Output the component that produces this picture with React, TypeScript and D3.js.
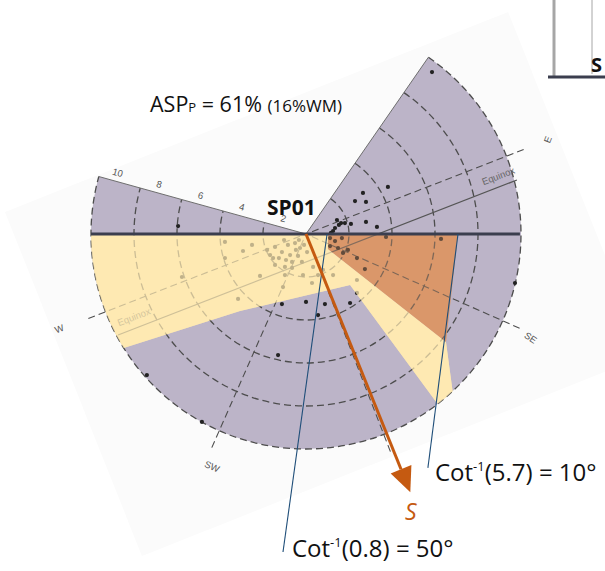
import * as d3 from "d3";

// chart frame: polar plot centred on SP01, radius 10 units
const CX = 306;
const CY = 234;
const R = 215;

const ringValues = [2, 4, 6, 8, 10];
const gapAngles = [55.3, 164.5]; // white wedge, maths degrees
const compassAngles = [21.2, 201.2, 246.2, 291.2, 336.2];
const compassLabels = [
  { text: "E", angle: 21.2, radius: 12.1, rot: -69 },
  { text: "W", angle: 201.2, radius: 12.3, rot: -21 },
  { text: "SW", angle: 248, radius: 11.7, rot: 24 },
  { text: "SE", angle: 335, radius: 11.5, rot: 34 },
];
const equinoxLine = [[-8.74, -4.7], [9.81, 2.51]];
const equinoxLabels = [[-7.95, -4.0], [9.0, 2.55]];

const yellowLower = [[-3.07, -3.58], [2.05, -2.37], [6.09, -7.86]];
const yellowUpper = [[6.51, -5.02], [1.02, -0.7], [1.02, 0]];
const orangeZone = [[1.02, 0], [7.07, 0], [6.51, -5.02], [1.02, -0.7]];
const cotLines = [
  { from: [0.98, 0], to: [-1.07, -14.79] },
  { from: [7.07, 0], to: [5.67, -10.88] },
];
const sunAngle = -68;
const sunLength = 12.95;

const pagePoly = [[-14.0, 1.02], [9.4, 10.33], [15.77, -5.67], [-7.63, -14.98]];

const dots = [
  [5.86, 7.53], [3.81, 2.19], [2.65, 1.91], [2.28, 1.53], [2.79, 1.49],
  [1.63, 0.51], [1.81, 0.51], [1.53, 0.42], [2.09, 0.47], [2.79, 0.56],
  [3.3, 0.33], [1.35, 0.28], [1.26, 0.14], [1.16, 0.05], [9.72, -2.28],
  [1.44, 0.65], [-5.95, 0.37],
  [1.12, -0.19], [1.35, -0.33], [1.67, -0.19], [1.49, -0.65], [1.12, -0.56],
  [1.95, -0.74], [1.72, -0.88], [2.37, -1.12], [2.74, -1.63], [3.72, -0.14],
  [6.28, -0.23],
  [-3.77, -0.37], [-2.93, -0.79], [-2.51, -0.51], [-1.81, -0.74], [-1.44, -0.6],
  [-3.77, -1.12], [-5.77, -2.0], [-2.14, -1.95], [-3.16, -3.02], [-0.98, -1.91],
  [-1.53, -1.12], [-1.44, -1.44], [-0.98, -1.53], [-0.65, -1.3], [-0.19, -1.3],
  [-0.14, -1.91], [0.33, -1.53], [0.56, -1.91], [1.26, -1.91], [-1.07, -2.47],
  [0.28, -2.28], [0.79, -1.67], [2.37, -2.14],
  [-0.84, -0.51], [-0.51, -0.42], [-0.28, -0.65], [-1.12, -0.84], [-0.74, -0.98],
  [-0.37, -1.02], [-1.26, -1.12], [-0.93, -1.21], [-0.47, -0.74], [-0.09, -0.51],
  [-1.67, -0.98], [-0.65, -1.58], [-0.33, -0.28], [-1.02, -0.28], [0.05, -0.84],
  [-1.12, -3.26], [0.0, -3.16], [0.88, -3.26], [2.05, -3.21], [2.37, -2.74],
  [0.56, -3.77], [-1.3, -5.63], [-7.4, -6.56], [-4.84, -8.74],
];

const PURPLE = "#bcb4c8";
const YELLOW = "#fde9b2";
const ORANGE = "#da976a";
const RUST = "#c55a11";
const BLUE = "#1f4e79";
const FONT = "'Open Sans', 'Noto Sans', sans-serif";
const SMALL = "'Liberation Sans', Arial, sans-serif";

const x = d3.scaleLinear().domain([-10, 10]).range([CX - R, CX + R]);
const y = d3.scaleLinear().domain([-10, 10]).range([CY + R, CY - R]);
const rs = d3.scaleLinear().domain([0, 10]).range([0, R]);
const rad = (deg: number) => (deg * Math.PI) / 180;

const polar = (deg: number, r: number): [number, number] => [
  x(r * Math.cos(rad(deg))),
  y(r * Math.sin(rad(deg))),
];
const pt = (p: number[]): [number, number] => [x(p[0]), y(p[1])];

function arcPath(rr: number, closeToCentre: boolean) {
  const p = d3.path();
  const a0 = rad(-gapAngles[0]);
  const a1 = rad(360 - gapAngles[1]);
  if (closeToCentre) p.moveTo(x(0), y(0));
  else p.moveTo(x(0) + rs(rr) * Math.cos(a0), y(0) + rs(rr) * Math.sin(a0));
  p.arc(x(0), y(0), rs(rr), a0, a1, false);
  if (closeToCentre) p.closePath();
  return p.toString();
}

const line = d3.line();

function yellowPath() {
  const pts: [number, number][] = [pt([0, 0]), polar(180, 10)];
  d3.range(180, 212.1, 2).forEach((a) => pts.push(polar(a, 10)));
  yellowLower.forEach((p) => pts.push(pt(p)));
  d3.range(-52, -46.9, 1).forEach((a) => pts.push(polar(a, 10)));
  yellowUpper.forEach((p) => pts.push(pt(p)));
  return line(pts) + "Z";
}

function Chart() {
  const yPath = yellowPath();
  const oPath = line(orangeZone.map(pt)) + "Z";
  const tip = polar(sunAngle, sunLength);
  const base = polar(sunAngle, sunLength - 1.15);
  const ux = Math.cos(rad(sunAngle));
  const uy = -Math.sin(rad(sunAngle));
  const hw = rs(0.52);
  const head = [
    tip,
    [base[0] - uy * hw, base[1] + ux * hw],
    [base[0] + uy * hw, base[1] - ux * hw],
  ] as [number, number][];

  const edgeA = gapAngles[1];
  const perp = [Math.cos(rad(edgeA - 90)), -Math.sin(rad(edgeA - 90))];

  return (
    <svg width={605} height={571} style={{ position: "absolute", left: 0, top: 0 }}>
      <rect width={605} height={571} fill="#ffffff" />
      <path d={line(pagePoly.map(pt)) + "Z"} fill="#fbfbfb" />

      {/* base shading */}
      <path d={arcPath(10, true)} fill={PURPLE} />
      <path d={yPath} fill={YELLOW} />
      <path d={oPath} fill={ORANGE} />

      {/* grid */}
      {ringValues.map((v) => (
        <path key={v} d={arcPath(v, false)} fill="none" stroke="#4d4d4d"
          strokeWidth={1.3} strokeDasharray="7 4" />
      ))}
      {compassAngles.map((a) => (
        <path key={a} d={line([polar(a, 0.3), polar(a, 11)])!} stroke="#4d4d4d"
          strokeWidth={1.1} strokeDasharray="7 4" fill="none" />
      ))}
      {gapAngles.map((a) => (
        <path key={a} d={line([polar(a, 0), polar(a, 10)])!} stroke="#6e6e6e"
          strokeWidth={1} fill="none" />
      ))}
      <path d={line(equinoxLine.map(pt))!} stroke="#555" strokeWidth={1.2} fill="none" />
      {equinoxLabels.map((p, i) => (
        <text key={i} x={pt(p)[0]} y={pt(p)[1]} fontSize={9.5} fill="#666"
          fontFamily={SMALL} textAnchor="middle"
          transform={`rotate(-21 ${pt(p)[0]} ${pt(p)[1]})`}>Equinox</text>
      ))}
      {dots.map((d, i) => (
        <circle key={i} cx={x(d[0])} cy={y(d[1])} r={2.1} fill="#222" />
      ))}

      {/* fading overlays */}
      <path d={yPath} fill={YELLOW} opacity={0.72} />
      <path d={oPath} fill={ORANGE} opacity={0.35} />

      {/* ring labels along the edge */}
      {ringValues.map((v) => {
        const p = polar(edgeA, v - 0.8);
        const lx = p[0] + perp[0] * 8;
        const ly = p[1] + perp[1] * 8;
        return (
          <text key={v} x={lx} y={ly} fontSize={9.5} fill="#555" textAnchor="middle"
            dominantBaseline="middle" fontFamily={SMALL}
            transform={`rotate(15.5 ${lx} ${ly})`}>{v}</text>
        );
      })}
      {compassLabels.map((c) => {
        const p = polar(c.angle, c.radius);
        return (
          <text key={c.text} x={p[0]} y={p[1]} fontSize={9.5} fill="#555" textAnchor="middle"
            dominantBaseline="middle" fontFamily={SMALL}
            transform={`rotate(${c.rot} ${p[0]} ${p[1]})`}>{c.text}</text>
        );
      })}

      {/* horizon line */}
      <path d={line([pt([-10, 0]), pt([9.95, 0])])!} stroke="#3b3e4e" strokeWidth={3} />

      {/* cot lines */}
      {cotLines.map((c, i) => (
        <path key={i} d={line([pt(c.from), pt(c.to)])!} stroke={BLUE} strokeWidth={1.1} fill="none" />
      ))}

      {/* sun direction */}
      <path d={line([pt([0, 0]), base])!} stroke={RUST} strokeWidth={3} />
      <path d={line(head) + "Z"} fill={RUST} />

      {/* texts */}
      <text x={150} y={112} fontFamily={FONT} fontSize={21.5} fill="#111">
        ASP<tspan fontSize={13}>P</tspan> = 61% <tspan fontSize={17}>(16%WM)</tspan>
      </text>
      <text x={267} y={215} fontFamily={FONT} fontSize={21} fontWeight="bold" fill="#111">SP01</text>
      <text x={435} y={481} fontFamily={FONT} fontSize={24} fill="#111">
        Cot<tspan fontSize={13} dy={-10}>-1</tspan><tspan dy={10}>(5.7) = 10°</tspan>
      </text>
      <text x={292} y={557} fontFamily={FONT} fontSize={24} fill="#111">
        Cot<tspan fontSize={13} dy={-10}>-1</tspan><tspan dy={10}>(0.8) = 50°</tspan>
      </text>
      <text x={405} y={520} fontFamily={FONT} fontSize={23} fontStyle="italic" fill={RUST}>S</text>

      {/* fragment of neighbouring figure */}
      <line x1={554} y1={0} x2={554} y2={76} stroke="#a6a6a6" strokeWidth={3} />
      <line x1={592} y1={0} x2={592} y2={74} stroke="#a6a6a6" strokeWidth={1} />
      <line x1={548} y1={77} x2={605} y2={77} stroke="#3b3e4e" strokeWidth={3} />
      <text x={591} y={72} fontFamily={FONT} fontSize={20} fontWeight="bold" fill="#111">S</text>
    </svg>
  );
}

export default function App() {
  return <Chart />;
}
